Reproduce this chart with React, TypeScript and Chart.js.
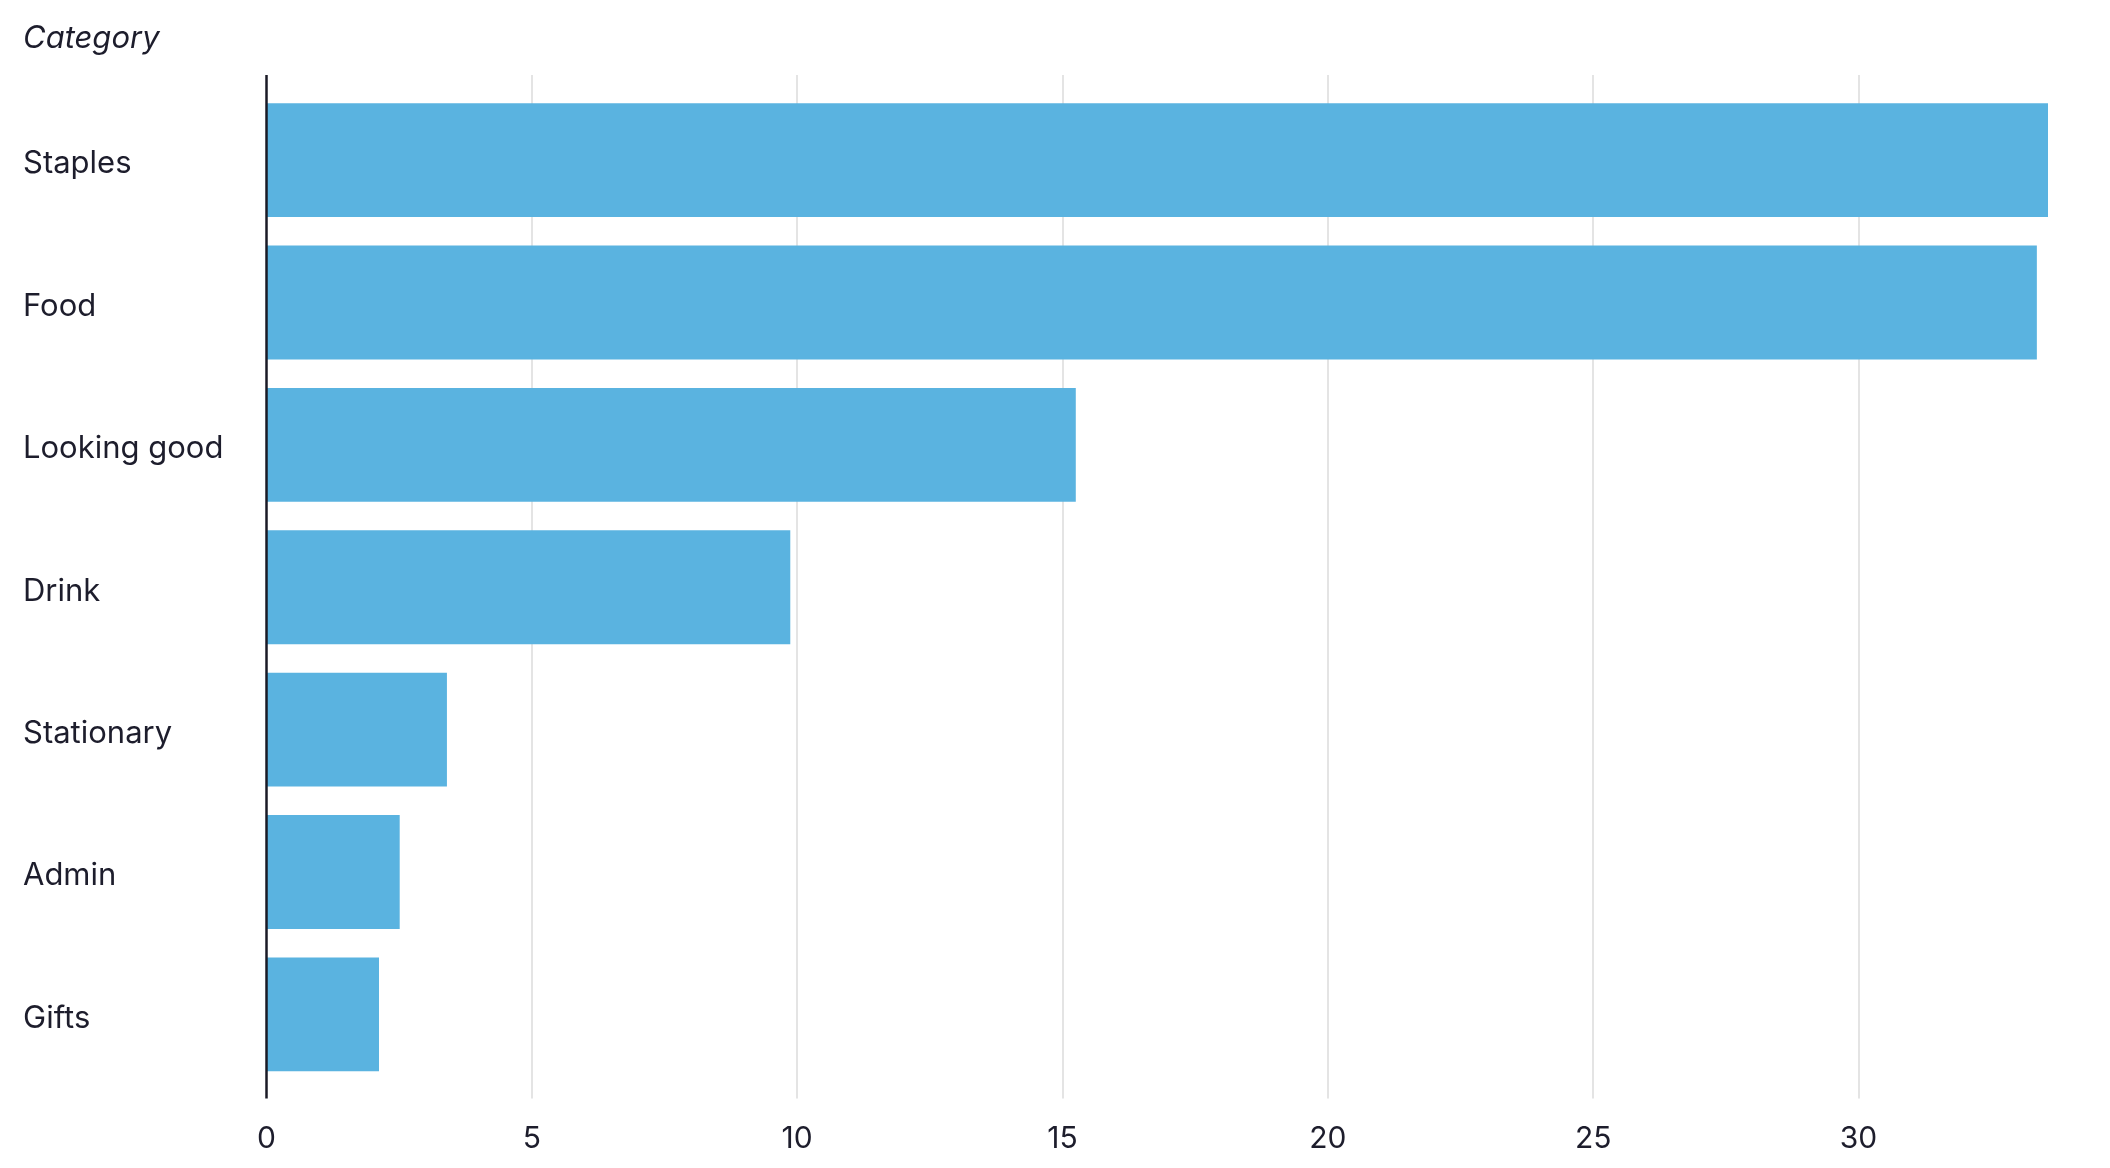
import React, { useEffect, useRef } from "react";
import { Chart, registerables } from "chart.js";

Chart.register(...registerables);

const categories = ["Staples", "Food", "Looking good", "Drink", "Stationary", "Admin", "Gifts"];
const values = [33.57, 33.36, 15.25, 9.87, 3.4, 2.51, 2.12];
const axisTitle = "Category";
const tickStep = 5;

const TEXT = "#1d1d2c";
const BAR = "#5ab3e0";
const GRID = "#e4e4e4";
const FONT = "Inter, 'Noto Sans', sans-serif";

const extendedGrid = {
  id: "extendedGrid",
  beforeDatasetsDraw(chart: any) {
    const { ctx, chartArea, scales } = chart;
    const x = scales.x;
    ctx.save();
    ctx.strokeStyle = GRID;
    ctx.lineWidth = 2;
    for (const t of x.ticks) {
      if (t.value === 0) continue;
      const px = Math.round(x.getPixelForValue(t.value));
      ctx.beginPath();
      ctx.moveTo(px, chartArea.top - 14);
      ctx.lineTo(px, chartArea.bottom + 13);
      ctx.stroke();
    }
    ctx.restore();
  },
  afterDatasetsDraw(chart: any) {
    const { ctx, chartArea, scales } = chart;
    const px = scales.x.getPixelForValue(0);
    ctx.save();
    ctx.strokeStyle = "#1a1a26";
    ctx.lineWidth = 2.5;
    ctx.beginPath();
    ctx.moveTo(px, chartArea.top - 14);
    ctx.lineTo(px, chartArea.bottom + 13);
    ctx.stroke();
    ctx.restore();
  },
};

export default function App() {
  const ref = useRef<HTMLCanvasElement | null>(null);
  useEffect(() => {
    if (!ref.current) return;
    const chart = new Chart(ref.current, {
      type: "bar",
      data: {
        labels: categories,
        datasets: [
          {
            data: values,
            backgroundColor: BAR,
            borderWidth: 0,
            categoryPercentage: 1,
            barPercentage: 0.8,
          },
        ],
      },
      options: {
        indexAxis: "y",
        animation: false,
        responsive: false,
        devicePixelRatio: 1,
        layout: { padding: { left: 23, right: 62, top: 0, bottom: 12.5 } },
        plugins: {
          legend: { display: false },
          tooltip: { enabled: false },
          title: {
            display: true,
            text: axisTitle,
            align: "start",
            color: TEXT,
            font: { family: FONT, size: 31, style: "italic", weight: "normal" },
            padding: { top: 20, bottom: 31.8 },
          },
        },
        scales: {
          x: {
            type: "linear",
            min: 0,
            max: Math.max(...values),
            grid: { display: false },
            border: { display: false },
            ticks: {
              stepSize: tickStep,
              includeBounds: false,
              color: TEXT,
              padding: 27,
              font: { family: FONT, size: 30 },
            },
            afterFit(scale: any) {
              scale.height = 70;
            },
          },
          y: {
            grid: { display: false },
            border: { display: false },
            ticks: {
              crossAlign: "far",
              labelOffset: 4,
              color: TEXT,
              font: { family: FONT, size: 31 },
            },
            afterFit(scale: any) {
              scale.width = 243.5;
            },
          },
        },
      },
      plugins: [extendedGrid],
    });
    return () => chart.destroy();
  }, []);
  return (
    <div style={{ position: "absolute", left: 0, top: 0, width: 2110, height: 1168, background: "#fff" }}>
      <canvas ref={ref} width={2110} height={1168} />
    </div>
  );
}
